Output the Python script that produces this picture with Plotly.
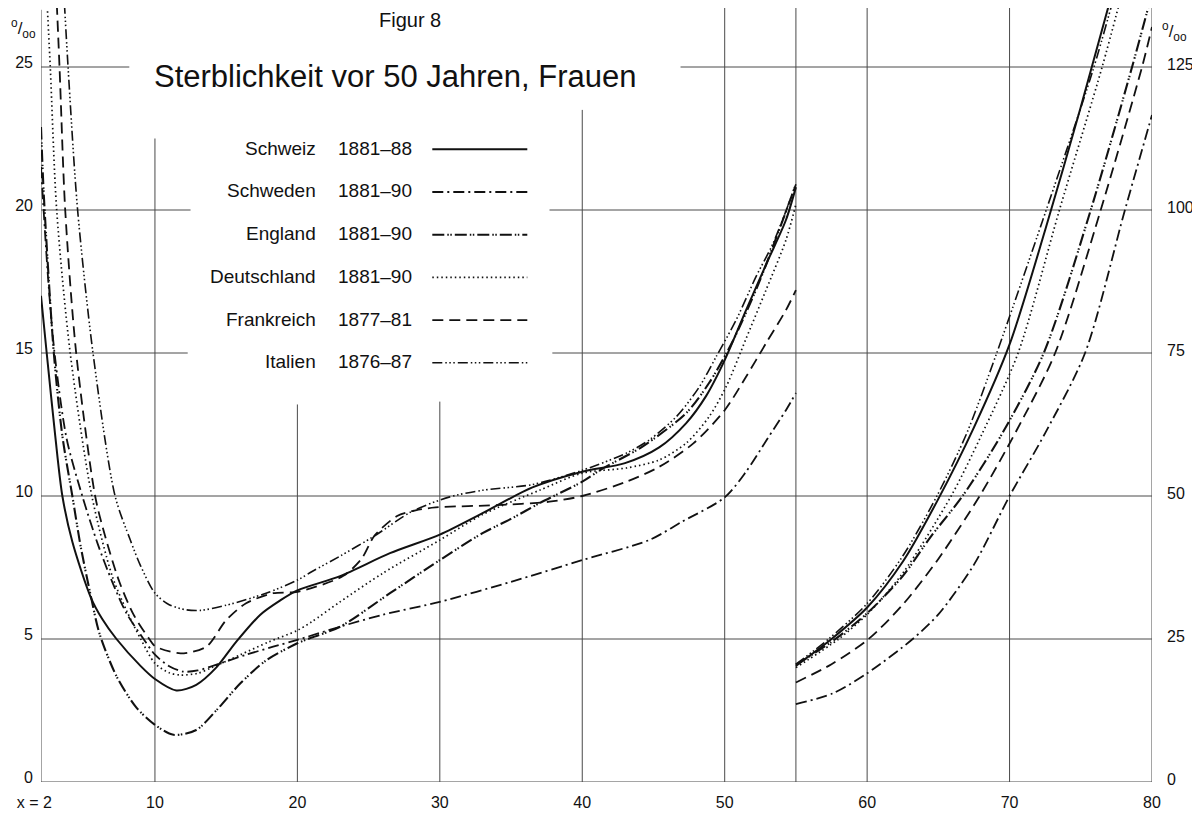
import plotly.graph_objects as go

# ---------------- data: age (x) and mortality per mille ----------------
# left part of the chart: ages 2-55 (left scale); right part: ages 55-80 (right scale)
schweiz_age_l = [2, 2.4, 3, 3.5, 4.2, 5.5, 6.3, 7.3, 9, 10, 11.5, 12.9, 14.3, 15.7, 17.4, 18.8, 20, 23, 26.5, 30, 33, 36.5, 40, 43, 45.4, 47.3, 48.7, 50, 51.5, 53, 54.3, 55]
schweiz_l = [17.0, 15.0, 12.1, 10.0, 8.4, 6.45, 5.7, 5.0, 4.05, 3.6, 3.2, 3.4, 4.0, 4.9, 5.85, 6.35, 6.7, 7.2, 8.0, 8.65, 9.4, 10.3, 10.85, 11.15, 11.7, 12.55, 13.5, 14.75, 16.5, 18.2, 19.65, 20.8]
schweiz_age_r = [55, 57.5, 60, 62.5, 65, 67.5, 70, 72.5, 75, 77.1]
schweiz_r = [20.3, 25, 30.5, 38.5, 49.5, 62, 76.5, 96.5, 118, 137]

schweden_age_l = [2, 2.5, 2.95, 3.8, 4.9, 6, 7, 8, 9.2, 10, 11, 12, 13, 14.6, 16.4, 18.3, 20, 23, 26, 30, 35, 40, 44.7, 47, 50, 51.5, 53, 54.3, 55]
schweden_l = [21.5, 17.6, 15.0, 12.0, 10.0, 8.3, 7.0, 5.9, 5.0, 4.45, 4.05, 3.86, 3.9, 4.15, 4.45, 4.73, 4.97, 5.43, 5.85, 6.3, 7.0, 7.76, 8.46, 9.1, 9.95, 10.85, 12.0, 13.0, 13.6]
schweden_age_r = [55, 57.6, 60, 63.2, 65, 67.5, 70, 72.5, 75.3, 78.1, 80]
schweden_r = [13.6, 15.5, 19.0, 25, 29.3, 38, 50, 61, 75, 100, 116.6]

england_age_l = [2, 2.2, 2.9, 3.5, 4.2, 4.8, 5.5, 6.1, 7.3, 8.7, 10, 11.3, 12.9, 14.3, 16, 17.8, 20, 21, 23, 26.5, 30, 33, 35, 37, 40, 41.4, 44.2, 47.3, 48.9, 50.5, 52.4, 55]
england_l = [22.9, 20.5, 15.0, 12.1, 10.0, 8.2, 6.5, 5.2, 3.7, 2.6, 2.0, 1.65, 1.82, 2.5, 3.45, 4.25, 4.85, 5.05, 5.43, 6.6, 7.76, 8.7, 9.2, 9.75, 10.5, 10.95, 11.72, 12.9, 13.95, 15.35, 17.45, 20.9]
england_age_r = [55, 57.5, 60, 62.5, 64.5, 66.7, 69.5, 72.4, 75.7, 78.6, 79.8]
england_r = [20.5, 24.5, 29.5, 36, 43, 50, 61, 75, 100, 125, 136]

deutschland_age_l = [2.25, 2.65, 3.1, 4.05, 5.57, 7, 8, 9, 10, 11, 11.8, 13, 14, 16, 18, 20, 21, 23, 26, 30, 33, 37, 40, 43.1, 45.4, 47.3, 48.9, 50.1, 51.5, 52.9, 54.3, 55]
deutschland_l = [29, 25, 20, 15, 10, 7.2, 6.0, 5.0, 4.15, 3.82, 3.74, 3.8, 4.0, 4.45, 4.9, 5.3, 5.6, 6.3, 7.3, 8.46, 9.35, 10.2, 10.8, 10.98, 11.26, 11.85, 12.77, 13.82, 15.5, 17.2, 18.95, 20.2]
deutschland_age_r = [55, 58, 60, 62.5, 65.9, 68, 70.6, 73.5, 76.5, 77.8]
deutschland_r = [20.0, 25, 29.3, 36.5, 50, 60.5, 75, 100, 125, 137]

frankreich_age_l = [2.95, 3.3, 3.7, 4.47, 5.8, 6.5, 7.5, 8.5, 9.6, 10, 11.8, 13.6, 15, 16.4, 18.3, 20, 23.2, 24.5, 25.4, 27, 28.3, 29.7, 34, 37.7, 40, 43.1, 45.4, 47.8, 50, 51.5, 52.9, 54.3, 55]
frankreich_l = [29, 25, 20, 15, 10, 8.6, 7.0, 5.85, 5.0, 4.75, 4.5, 4.73, 5.66, 6.25, 6.6, 6.65, 7.2, 7.8, 8.6, 9.3, 9.5, 9.6, 9.68, 9.8, 10.0, 10.5, 11.02, 11.84, 13.0, 14.17, 15.34, 16.5, 17.2]
frankreich_age_r = [55, 57.5, 60.1, 62.5, 65, 67.9, 70.5, 73.2, 76.4, 79.3, 80]
frankreich_r = [17.4, 20.6, 25, 31, 39, 50, 61.5, 75, 100, 125, 132]

italien_age_l = [3.45, 3.9, 4.57, 5.65, 7.2, 8.27, 9, 10, 11, 12.2, 13.2, 15, 17.8, 20, 21, 23, 25.4, 28, 30.7, 33, 36.5, 40, 43.1, 44.7, 46.6, 48.2, 49.4, 50.8, 52.2, 53.4, 55]
italien_l = [29, 25, 20, 15, 10, 8.46, 7.55, 6.6, 6.2, 6.02, 6.0, 6.18, 6.6, 7.06, 7.35, 7.9, 8.6, 9.45, 9.97, 10.2, 10.4, 10.9, 11.5, 11.96, 12.77, 13.8, 14.87, 16.15, 17.67, 18.84, 20.9]
italien_age_r = [55, 57.3, 60, 62.5, 64.9, 67, 69.1, 72.3, 75.8, 77.3]
italien_r = [20.6, 25, 31.2, 39.5, 50, 61, 75, 98, 124, 137]

countries = ["Schweiz", "Schweden", "England", "Deutschland", "Frankreich", "Italien"]
periods = ["1881\u201388", "1881\u201390", "1881\u201390", "1881\u201390", "1877\u201381", "1876\u201387"]

x_tickvals = [2, 10, 20, 30, 40, 50, 60, 70, 80]
x_ticktext = ["x = 2\u00a0\u00a0\u00a0", "10", "20", "30", "40", "50", "60", "70", "80"]
yl_tickvals = [0, 5, 10, 15, 20, 25]
yr_tickvals = [0, 25, 50, 75, 100, 125]

# ---------------- styling / geometry ----------------
OFF = 8                      # page offset of the figure (browser body margin)
W, H = 1192, 806
ML, MR, MT, MB = 32.7, 48.3, 0, 32
PW, PH = W - ML - MR, H - MT - MB
X0, X1 = 2, 80
YMAX = PH / 28.6
FONT = "Liberation Sans"
INK = "#111111"
GRID = "#4a4a4a"

styles = {
    "Schweiz": dict(dash="solid", width=2.0),
    "Schweden": dict(dash="11px,4px,2px,4px", width=1.8),
    "England": dict(dash="12px,3px,1.5px,1.5px,1.5px,3px", width=2.1),
    "Deutschland": dict(dash="1.5px,3px", width=1.7),
    "Frankreich": dict(dash="11px,6px", width=1.8),
    "Italien": dict(dash="10px,3px,1.5px,2.5px,1.5px,2.5px,1.5px,3px", width=1.6),
}

series = {
    "Schweiz": (schweiz_age_l, schweiz_l, schweiz_age_r, schweiz_r),
    "Schweden": (schweden_age_l, schweden_l, schweden_age_r, schweden_r),
    "England": (england_age_l, england_l, england_age_r, england_r),
    "Deutschland": (deutschland_age_l, deutschland_l, deutschland_age_r, deutschland_r),
    "Frankreich": (frankreich_age_l, frankreich_l, frankreich_age_r, frankreich_r),
    "Italien": (italien_age_l, italien_l, italien_age_r, italien_r),
}


def px_x(px):
    return (px - OFF - ML) / PW


def px_y(py):
    return (H - MB - (py - OFF)) / PH


fig = go.Figure()

for name in countries:
    al, vl, ar, vr = series[name]
    st = styles[name]
    line = dict(color=INK, width=st["width"], dash=st["dash"], shape="spline", smoothing=0.8)
    fig.add_trace(go.Scatter(x=al, y=vl, mode="lines", line=line, name=name,
                             showlegend=False, hoverinfo="skip", yaxis="y"))
    fig.add_trace(go.Scatter(x=ar, y=vr, mode="lines", line=line, name=name,
                             showlegend=False, hoverinfo="skip", yaxis="y2"))

# ---------------- grid (interrupted around the title and the legend) ----------------
h_grid = [(0, 2, 80), (5, 2, 80), (10, 2, 80), (15, 2, 12.3), (15, 37.9, 80),
          (20, 2, 12.5), (20, 37.7, 80), (25, 2, 8.2), (25, 46.9, 80)]
v_grid = [(2, 0, 27.0), (10, 0, 22.5), (20, 0, 13.2), (30, 0, 13.3), (40, 0, 23.5),
          (50, 0, YMAX), (55, 0, YMAX), (60, 0, YMAX), (70, 0, YMAX), (80, 0, YMAX)]
shapes = []
for yv, xa, xb in h_grid:
    shapes.append(dict(type="line", xref="x", yref="y", x0=xa, x1=xb, y0=yv, y1=yv,
                       line=dict(color=GRID, width=1), layer="below"))
for xv, ya, yb in v_grid:
    shapes.append(dict(type="line", xref="x", yref="y", x0=xv, x1=xv, y0=ya, y1=yb,
                       line=dict(color=GRID, width=1), layer="below"))

# ---------------- hand-drawn style legend ----------------
annotations = []
row_y0, row_dy = 148.3, 42.7
for i, name in enumerate(countries):
    py = row_y0 + i * row_dy
    annotations.append(dict(x=px_x(318), y=px_y(py), xref="paper", yref="paper",
                            text=name, showarrow=False, xanchor="right", yanchor="middle",
                            font=dict(family=FONT, size=19, color=INK)))
    annotations.append(dict(x=px_x(336), y=px_y(py), xref="paper", yref="paper",
                            text=periods[i], showarrow=False, xanchor="left", yanchor="middle",
                            font=dict(family=FONT, size=19, color=INK)))
    st = styles[name]
    shapes.append(dict(type="line", xref="paper", yref="paper",
                       x0=px_x(432), x1=px_x(527), y0=px_y(py + 1), y1=px_y(py + 1),
                       line=dict(color=INK, width=st["width"], dash=st["dash"])))

annotations += [
    dict(x=px_x(410), y=px_y(20), xref="paper", yref="paper", text="Figur 8",
         showarrow=False, xanchor="center", yanchor="middle",
         font=dict(family=FONT, size=20, color=INK)),
    dict(x=px_x(395), y=px_y(76), xref="paper", yref="paper",
         text="Sterblichkeit vor 50 Jahren, Frauen",
         showarrow=False, xanchor="center", yanchor="middle",
         font=dict(family=FONT, size=31, color=INK)),
    dict(x=px_x(9), y=px_y(14), xref="paper", yref="paper",
         text="<sup>o</sup>/<sub>oo</sub>", showarrow=False, xanchor="left",
         font=dict(family=FONT, size=17, color=INK)),
    dict(x=px_x(1160), y=px_y(17), xref="paper", yref="paper",
         text="<sup>o</sup>/<sub>oo</sub>", showarrow=False, xanchor="left",
         font=dict(family=FONT, size=17, color=INK)),
]

fig.update_layout(
    width=W, height=H,
    margin=dict(l=ML, r=MR, t=MT, b=MB, autoexpand=False),
    paper_bgcolor="white", plot_bgcolor="white",
    showlegend=False,
    font=dict(family=FONT, color=INK),
    shapes=shapes, annotations=annotations,
    xaxis=dict(range=[X0, X1], showgrid=False, zeroline=False, showline=False,
               tickmode="array", tickvals=x_tickvals, ticktext=x_ticktext,
               ticks="", tickfont=dict(family=FONT, size=16, color=INK),
               ticklabelstandoff=9, automargin=False),
    yaxis=dict(range=[0, YMAX], showgrid=False, zeroline=False, showline=False,
               tickmode="array", tickvals=yl_tickvals, ticks="",
               tickfont=dict(family=FONT, size=16, color=INK),
               ticklabelstandoff=7, ticklabelshift=-5, automargin=False),
    yaxis2=dict(range=[0, YMAX * 5], overlaying="y", side="right",
                showgrid=False, zeroline=False, showline=False,
                tickmode="array", tickvals=yr_tickvals, ticks="",
                tickfont=dict(family=FONT, size=16, color=INK),
                ticklabelstandoff=14, ticklabelshift=-3, automargin=False),
)

fig.write_html("out.html")
